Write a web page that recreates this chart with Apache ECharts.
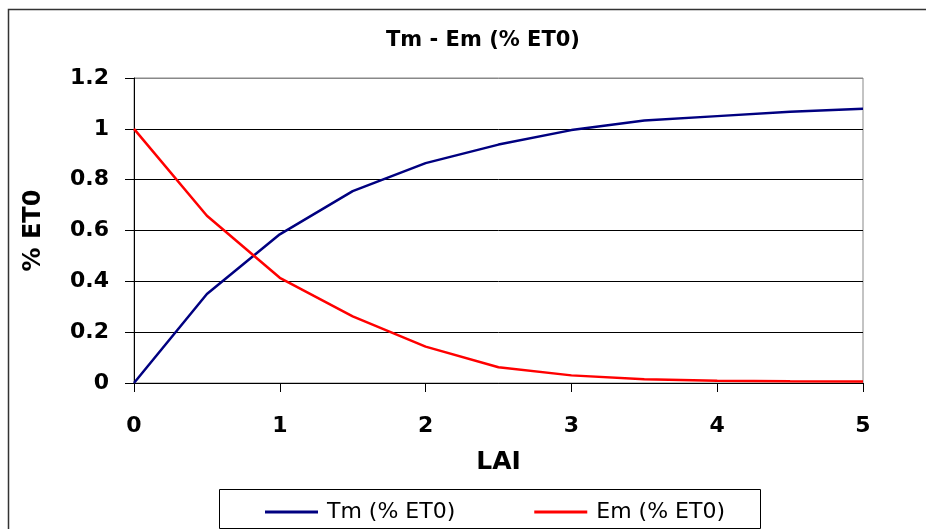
<!DOCTYPE html>
<html>
<head>
<meta charset="utf-8">
<script src="https://cdn.jsdelivr.net/npm/echarts@6/dist/echarts.min.js"></script>
<style>
  html, body { margin: 0; padding: 0; background: #fff; overflow: hidden; }
  #chart { width: 926px; height: 529px; }
</style>
</head>
<body>
<div id="chart"></div>
<script>
// Data
var lai = [0, 0.5, 1, 1.5, 2, 2.5, 3, 3.5, 4, 4.5, 5];
var tmValues = [0, 0.35, 0.585, 0.755, 0.865, 0.938, 0.995, 1.033, 1.05, 1.067, 1.079];
var emValues = [1, 0.658, 0.414, 0.262, 0.143, 0.062, 0.03, 0.015, 0.009, 0.007, 0.006];
var seriesNames = ['Tm (% ET0)', 'Em (% ET0)'];
var titleText = 'Tm - Em (% ET0)';
var xName = 'LAI';
var yName = '% ET0';

function pairs(xs, ys) {
  return xs.map(function (x, i) { return [x, ys[i]]; });
}

var chart = echarts.init(document.getElementById('chart'));
chart.setOption({
  animation: false,
  backgroundColor: '#fff',
  title: {
    text: titleText,
    left: 478,
    textAlign: 'center',
    top: 25,
    textStyle: { fontFamily: 'DejaVu Sans', fontSize: 21, fontWeight: 'bold', color: '#000' }
  },
  grid: {
    left: 134, right: 63, top: 78, bottom: 146,
    containLabel: false,
    outerBoundsMode: 'none',
    show: true, borderColor: '#888', borderWidth: 1, backgroundColor: 'transparent'
  },
  legend: {
    left: 260,
    top: 496,
    icon: 'rect',
    itemWidth: 53,
    itemHeight: 3,
    itemGap: 79,
    data: seriesNames,
    textStyle: { fontFamily: 'DejaVu Sans', fontSize: 22, color: '#000', padding: [0, 0, 0, 4] }
  },
  xAxis: {
    type: 'value',
    min: 0, max: 5, interval: 1,
    name: xName,
    nameLocation: 'middle',
    nameGap: 67,
    nameTextStyle: { fontFamily: 'DejaVu Sans', fontSize: 25, fontWeight: 'bold', color: '#000' },
    axisLine: { show: true, lineStyle: { color: '#000', width: 1 } },
    axisTick: { show: true, inside: false, length: 9, lineStyle: { color: '#000' } },
    axisLabel: { margin: 32, fontFamily: 'DejaVu Sans', fontSize: 22, fontWeight: 'bold', color: '#000' },
    splitLine: { show: false }
  },
  yAxis: {
    type: 'value',
    min: 0, max: 1.2, interval: 0.2,
    name: yName,
    nameLocation: 'middle',
    nameGap: 88,
    nameRotate: 90,
    nameTextStyle: { fontFamily: 'DejaVu Sans', fontSize: 24, fontWeight: 'bold', color: '#000' },
    axisLine: { show: true, lineStyle: { color: '#000', width: 1 } },
    axisTick: { show: true, inside: false, length: 9, lineStyle: { color: '#000' } },
    axisLabel: { margin: 25, fontFamily: 'DejaVu Sans', fontSize: 22, fontWeight: 'bold', color: '#000' },
    splitLine: { show: true, lineStyle: { color: ['#000', '#000', '#000', '#000', '#000', '#000', '#888'], width: 1 } }
  },
  graphic: [
    {
      type: 'polyline',
      shape: { points: [[8.5, 529], [8.5, 9.5], [926, 9.5]] },
      style: { fill: 'none', stroke: '#333', lineWidth: 1.5 },
      silent: true, z: -1
    },
    {
      type: 'rect',
      shape: { x: 219.5, y: 489.5, width: 541, height: 39 },
      style: { fill: 'none', stroke: '#000', lineWidth: 1 },
      silent: true
    }
  ],
  series: [
    {
      name: seriesNames[0],
      type: 'line',
      data: pairs(lai, tmValues),
      symbol: 'none',
      lineStyle: { color: '#000080', width: 2.5 },
      itemStyle: { color: '#000080' }
    },
    {
      name: seriesNames[1],
      type: 'line',
      data: pairs(lai, emValues),
      symbol: 'none',
      lineStyle: { color: '#FF0000', width: 2.5 },
      itemStyle: { color: '#FF0000' }
    }
  ]
});
</script>
</body>
</html>
